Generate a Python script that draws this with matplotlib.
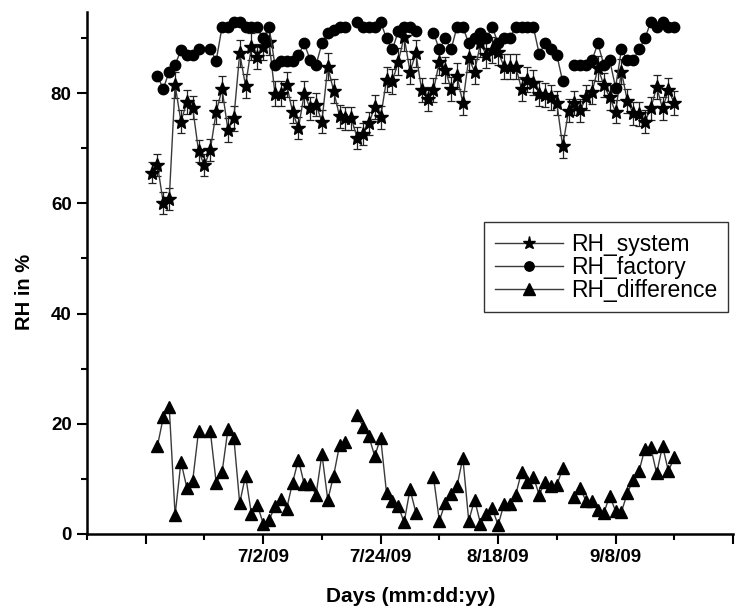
import numpy as np
import matplotlib
matplotlib.use("Agg")
import matplotlib.pyplot as plt
from matplotlib.ticker import FixedLocator

nan = np.nan

# sample number (measurement day index)
sample = list(range(11, 101))

rh_system = [65.5, 66.9, 60.0, 60.7, 81.5, 74.8, 78.4, 77.3, 69.4, 66.9,
             69.7, 76.6, 80.7, 73.3, 75.4, 87.2, 81.3, 88.4, 86.6, 88.4,
             89.3, 79.9, 79.9, 81.5, 76.6, 73.6, 79.9, 77.2, 77.9, 74.8,
             84.8, 80.4, 75.8, 75.4, 75.4, 71.9, 72.6, 74.5, 77.5, 75.6,
             82.4, 82.1, 85.7, 90.2, 83.9, 87.2, 80.5, 78.9, 80.5, 85.7,
             84.2, 80.7, 83.1, 78.2, 86.3, 83.9, 89.0, 86.9, 87.8, 87.5,
             84.8, 84.8, 84.8, 80.7, 82.4, 81.9, 79.9, 79.6, 79.2, 78.2,
             70.3, 76.8, 78.2, 76.9, 79.2, 80.2, 84.5, 81.5, 79.2, 76.6,
             83.9, 78.6, 76.3, 76.2, 74.8, 77.2, 81.1, 77.2, 80.5, 78.2]

rh_system_err = [1.9, 2.0, 2.0, 2.0, 2.4, 2.1, 2.2, 2.1, 2.0, 2.0,
                 2.0, 2.2, 2.3, 2.1, 2.2, 2.5, 2.2, 2.4, 2.3, 2.4,
                 2.4, 2.2, 2.2, 2.3, 2.1, 2.0, 2.2, 2.1, 2.1, 2.1,
                 2.4, 2.2, 2.1, 2.1, 2.1, 2.0, 2.0, 2.1, 2.2, 2.1,
                 2.3, 2.3, 2.4, 2.5, 2.3, 2.4, 2.2, 2.2, 2.2, 2.4,
                 2.3, 2.2, 2.3, 2.2, 2.4, 2.3, 2.5, 2.4, 2.4, 2.4,
                 2.3, 2.3, 2.3, 2.2, 2.3, 2.3, 2.2, 2.2, 2.2, 2.2,
                 2.0, 2.1, 2.2, 2.1, 2.2, 2.2, 2.3, 2.2, 2.2, 2.1,
                 2.3, 2.2, 2.1, 2.1, 2.1, 2.1, 2.2, 2.1, 2.2, 2.2]

rh_factory = [nan, 83.0, 80.8, 83.9, 85.1, 87.8, 86.9, 86.9, 87.9, nan,
              87.9, 85.9, 92.0, 92.0, 92.9, 92.9, 92.0, 92.0, 92.0, 89.9,
              92.0, 85.1, 85.9, 85.9, 85.9, 86.9, 89.0, 86.0, 85.1, 89.0,
              90.8, 91.5, 92.0, 92.0, nan, 92.9, 92.0, 92.0, 92.0, 92.9,
              89.9, 87.9, 91.2, 92.0, 92.0, 91.2, nan, nan, 90.9, 87.9,
              89.9, 87.9, 92.0, 92.0, 89.0, 89.9, 90.9, 89.9, 92.0, 89.0,
              89.9, 89.9, 92.0, 92.0, 92.0, 92.0, 87.1, 89.0, 87.9, 86.9,
              82.1, nan, 85.1, 85.1, 85.1, 86.0, 89.0, 85.1, 86.0, 81.0,
              87.9, 86.0, 86.0, 87.9, 89.9, 92.9, 92.0, 92.9, 92.0, 92.0]

rh_difference = [nan, 16.0, 21.2, 23.1, 3.4, 13.1, 8.4, 9.7, 18.7, nan,
                 18.6, 9.3, 11.2, 19.0, 17.5, 5.6, 10.6, 3.6, 5.3, 1.9,
                 2.5, 5.0, 6.3, 4.6, 9.3, 13.5, 9.0, 9.1, 7.1, 14.5,
                 6.2, 10.6, 16.1, 16.7, nan, 21.5, 19.5, 17.7, 14.1, 17.5,
                 7.5, 5.9, 5.1, 2.1, 8.1, 3.9, nan, nan, 10.3, 2.4,
                 5.6, 7.3, 8.7, 13.8, 2.4, 6.2, 1.9, 3.6, 4.7, 1.6,
                 5.4, 5.4, 7.1, 11.3, 9.5, 10.4, 7.1, 9.5, 8.7, 8.9,
                 11.9, nan, 6.8, 8.3, 5.9, 6.0, 4.4, 3.8, 6.9, 4.2,
                 4.0, 7.4, 9.8, 11.4, 15.5, 15.7, 11.0, 16.0, 11.4, 13.9]

xtick_major = [10, 30, 50, 70, 90, 110]
xtick_labels = ["", "7/2/09", "7/24/09", "8/18/09", "9/8/09", ""]
xtick_minor = [0, 20, 40, 60, 80, 100]
ytick_major = [0, 20, 40, 60, 80]
ytick_minor = [10, 30, 50, 70, 90]

plt.rcParams['font.family'] = ['Liberation Sans', 'DejaVu Sans']

W, H = 736, 612
fig = plt.figure(figsize=(W / 100, H / 100), dpi=100)
ax = fig.add_axes([87 / W, 78 / H, 646 / W, 522 / H])

line_col = '#3a3a3a'
ax.errorbar(sample, rh_system, yerr=rh_system_err, fmt='none', ecolor='#222222',
            elinewidth=0.9, capsize=3, capthick=0.9, zorder=2)
ax.plot(sample, rh_system, color=line_col, lw=1.0, marker='*', ms=10.5,
        mfc='black', mec='black', label='RH_system', zorder=3)
ax.plot(sample, rh_factory, color=line_col, lw=1.0, marker='o', ms=7.5,
        mfc='black', mec='black', label='RH_factory', zorder=3)
ax.plot(sample, rh_difference, color=line_col, lw=1.0, marker='^', ms=9,
        mfc='black', mec='black', label='RH_difference', zorder=3)

ax.set_xlim(0, 110)
ax.set_ylim(0, 94.7)

ax.xaxis.set_major_locator(FixedLocator(xtick_major))
ax.set_xticklabels(xtick_labels)
ax.xaxis.set_minor_locator(FixedLocator(xtick_minor))
ax.yaxis.set_major_locator(FixedLocator(ytick_major))
ax.yaxis.set_minor_locator(FixedLocator(ytick_minor))

for s in ['top', 'right']:
    ax.spines[s].set_visible(False)
for s in ['left', 'bottom']:
    ax.spines[s].set_linewidth(1.8)

ax.tick_params(which='major', direction='out', length=7, width=1.5,
               labelsize=13.5, pad=4)
ax.tick_params(which='minor', direction='out', length=4, width=1.5)
for lbl in ax.get_xticklabels() + ax.get_yticklabels():
    lbl.set_fontweight('bold')

ax.set_xlabel('Days (mm:dd:yy)', fontsize=15, fontweight='bold', va='center')
ax.xaxis.set_label_coords((411 - 87) / 646, (534 - 597) / 522)
ax.set_ylabel('RH in %', fontsize=14.5, fontweight='bold', va='center')
ax.yaxis.set_label_coords((25 - 87) / 646, (534 - 292) / 522)

leg = ax.legend(loc='upper left', bbox_to_anchor=((484 - 87) / 646, (534 - 222) / 522),
                borderaxespad=0, frameon=True, fancybox=False, fontsize=16.5,
                handlelength=3.0, handletextpad=0.35, labelspacing=0.0,
                borderpad=0.46, markerscale=0.9)
leg.get_frame().set_edgecolor('black')
leg.get_frame().set_linewidth(1.0)

fig.savefig('out.png', dpi=100)
